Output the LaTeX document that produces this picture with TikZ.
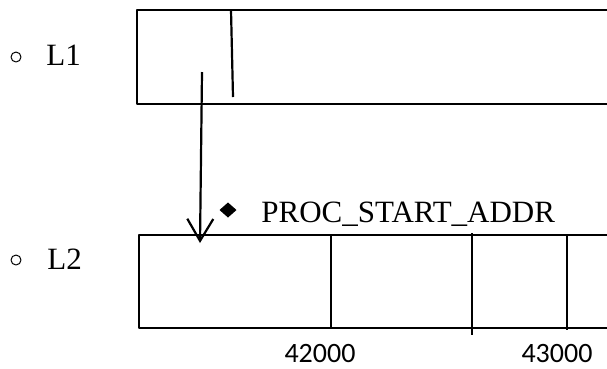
\documentclass[tikz,border=0pt]{standalone}
\usepackage{fontspec}
\setmainfont{Liberation Serif}
\newfontfamily\numfont{Carlito}
\usetikzlibrary{arrows.meta}
\tikzset{
  lbl/.style={anchor=base west,inner sep=0pt},
  addr/.style={anchor=base,inner sep=0pt,font=\numfont\fontsize{28}{32}\selectfont},
  thin/.style={line width=2.2pt}
}
\begin{document}
\begin{tikzpicture}[x=1pt,y=-1pt,line width=2.8pt,line join=round,font=\fontsize{31}{36}\selectfont,>={Straight Barb[length=22pt,width=26pt]}]
\useasboundingbox (0,0) rectangle (607,368);
\path
(137,10) coordinate (A)
(607,10) coordinate (B)
(607,104) coordinate (C)
(137,104) coordinate (D)
(139,235) coordinate (A')
(607,235) coordinate (B')
(607,328) coordinate (C')
(139,328) coordinate (D')
(202,72) coordinate (s)
(200,243) coordinate (t)
;
% L1 block
\draw (B)--(A)--(D)--(C);
\draw[thin] (231,10)--(233,97);
% L2 block
\draw (B')--(A')--(D')--(C');
\foreach \x/\a/\b in {331/235/328, 472/233/335, 567/235/330}
\draw[thin] (\x,\a)--(\x,\b);
% pointer
\draw[thin,->] (s)--(t);
\fill (219.5,210)--(228,202.5)--(236.5,210)--(228,217.5)--cycle;
\node[lbl] (ptr) at (260,222) {PROC\_START\_ADDR};
% levels
\foreach \n/\y in {1/57, 2/260}
\draw[line width=1pt] (16,\y) circle (5pt);
\node[lbl] (l1) at (45,65) {L1};
\node[lbl] (l2) at (46,269) {L2};
\node[addr] (n42) at (320,362) {42000};
\node[addr] (n43) at (557,362) {43000};
\end{tikzpicture}
\end{document}
